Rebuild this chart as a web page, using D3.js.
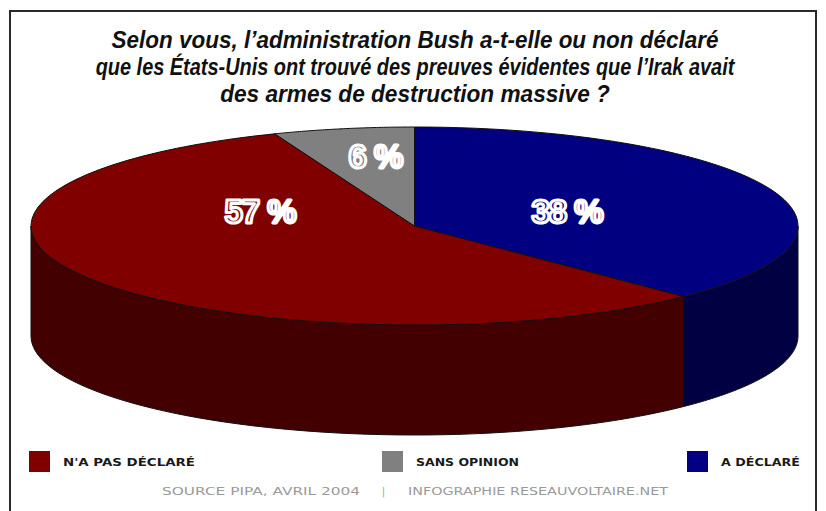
<!DOCTYPE html>
<html><head><meta charset="utf-8">
<script src="https://cdn.jsdelivr.net/npm/d3@7"></script>
<style>body{margin:0;background:#fff}svg{display:block}</style>
</head><body><svg id="c" width="826" height="511"></svg>
<script>
// ---- data ----
const categories = ["A DÉCLARÉ", "N'A PAS DÉCLARÉ", "SANS OPINION"];
const values = [38, 57, 6];
const valueLabels = ["38 %", "57 %", "6 %"];
const topColors = ["#000080", "#800000", "#808080"];
const sideColors = ["#000042", "#420000", "#404040"];
const legendOrder = [1, 2, 0];
const titleLines = [
  "Selon vous, l’administration Bush a-t-elle ou non déclaré",
  "que les États-Unis ont trouvé des preuves évidentes que l’Irak avait",
  "des armes de destruction massive ?"
];
const sourceParts = ["SOURCE PIPA, AVRIL 2004", "|", "INFOGRAPHIE RESEAUVOLTAIRE.NET"];

// ---- layout ----
const W = 826, H = 511;
const svg = d3.select("#c");
svg.append("rect").attr("x", 10).attr("y", 11).attr("width", 806).attr("height", 510)
  .attr("fill", "#fff").attr("stroke", "#2a2a2a").attr("stroke-width", 2);

// title (horizontally condensed to match the reference widths)
const titleW = [607, 639, 390];
svg.selectAll("g.title").data(titleLines).join("g")
  .attr("class", "title")
  .each(function (d, i) {
    const g = d3.select(this);
    const t = g.append("text")
      .attr("x", 0).attr("y", 0)
      .attr("text-anchor", "middle")
      .attr("font-family", "Liberation Sans, Arial, sans-serif")
      .attr("font-weight", "bold").attr("font-style", "italic")
      .attr("font-size", 24).attr("fill", "#111")
      .text(d);
    const nat = t.node().getComputedTextLength();
    g.attr("transform", `translate(415,${48 + i * 27}) scale(${titleW[i] / nat},1)`);
  });

// 3D pie
const cx = 414.5, cy = 226, rx = 383.5, ry = 99, depth = 110;
const pie = d3.pie().sort(null).value(d => d);
const arcs = pie(values);
const pt = (a, dz) => [cx + rx * Math.sin(a), cy - ry * Math.cos(a) + (dz || 0)];
const samples = (a0, a1) => d3.range(0, 61).map(k => a0 + (a1 - a0) * k / 60);
const line = d3.line();

const gSides = svg.append("g"), gTops = svg.append("g");
arcs.forEach((a, i) => {
  const s = Math.max(a.startAngle, Math.PI / 2), e = Math.min(a.endAngle, 3 * Math.PI / 2);
  if (s < e) {
    const top = samples(s, e).map(t => pt(t));
    const bot = samples(e, s).map(t => pt(t, depth));
    gSides.append("path").attr("d", line(top.concat(bot)) + "Z")
      .attr("fill", sideColors[i]).attr("stroke", "#111").attr("stroke-width", 1)
      .attr("stroke-linejoin", "round");
  }
});
arcs.forEach((a, i) => {
  const pts = [[cx, cy]].concat(samples(a.startAngle, a.endAngle).map(t => pt(t)));
  gTops.append("path").attr("d", line(pts) + "Z")
    .attr("fill", topColors[i]).attr("stroke", "#111").attr("stroke-width", 1)
    .attr("stroke-linejoin", "round");
});

// value labels
const labelF = [0.43, 0.48, 0.55];
const labelDy = [13, -29, -4];
arcs.forEach((a, i) => {
  const m = (a.startAngle + a.endAngle) / 2;
  const p = [cx + labelF[i] * rx * Math.sin(m), cy - labelF[i] * ry * Math.cos(m)];
  svg.append("text")
    .attr("x", p[0]).attr("y", p[1] + labelDy[i])
    .attr("text-anchor", "middle")
    .attr("font-family", "Liberation Sans, Arial, sans-serif")
    .attr("font-weight", "bold").attr("font-size", 33)
    .attr("letter-spacing", -1)
    .attr("fill", topColors[i]).attr("stroke", "#fff").attr("stroke-width", 3)
    .attr("stroke-linejoin", "round")
    .text(valueLabels[i]);
});

// legend
const legX = [29, 382, 687];
const legTW = [132, 103, 79];
legendOrder.forEach((ci, k) => {
  svg.append("rect").attr("x", legX[k]).attr("y", 451).attr("width", 21).attr("height", 21)
    .attr("fill", topColors[ci]);
  svg.append("text").attr("x", legX[k] + 34).attr("y", 466)
    .attr("font-family", "DejaVu Sans, sans-serif").attr("font-weight", "bold")
    .attr("font-size", 11).attr("fill", "#1a1a1a")
    .attr("textLength", legTW[k]).attr("lengthAdjust", "spacingAndGlyphs")
    .text(categories[ci]);
});

// source
const srcX = [162, 382, 408], srcW = [198, 3, 260];
sourceParts.forEach((s, k) => {
  svg.append("text").attr("x", srcX[k]).attr("y", 495)
    .attr("font-family", "DejaVu Sans, sans-serif")
    .attr("font-size", 11).attr("fill", "#9a9a9a")
    .attr("textLength", srcW[k]).attr("lengthAdjust", "spacingAndGlyphs")
    .text(s);
});
</script>
</body></html>
